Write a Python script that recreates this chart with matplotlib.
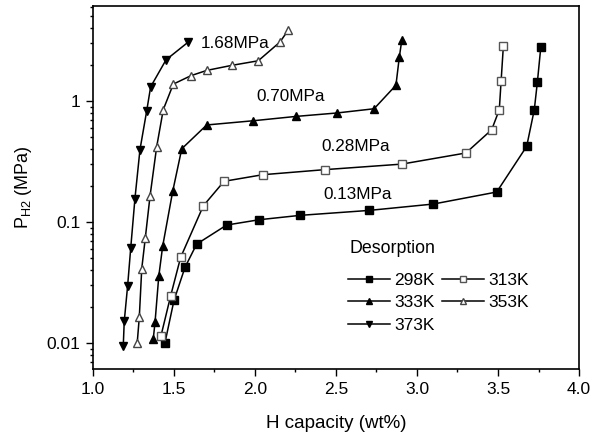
import matplotlib
matplotlib.use("Agg")
import matplotlib.pyplot as plt
from matplotlib.ticker import FixedLocator, LogLocator, FuncFormatter, MultipleLocator

plt.rcParams['font.family'] = ['Liberation Sans', 'DejaVu Sans']
plt.rcParams['mathtext.default'] = 'regular'

# Desorption isotherms: H capacity (wt%) vs hydrogen pressure (MPa)
cap_298 = [1.444, 1.50, 1.568, 1.640, 1.825, 2.027, 2.278, 2.704, 3.101, 3.492, 3.677, 3.724, 3.743, 3.764]
p_298 = [0.0100, 0.0225, 0.0422, 0.0657, 0.0944, 0.1045, 0.1135, 0.1247, 0.1408, 0.177, 0.422, 0.847, 1.43, 2.77]

cap_313 = [1.420, 1.480, 1.541, 1.681, 1.809, 2.048, 2.432, 2.906, 3.302, 3.461, 3.508, 3.519, 3.533]
p_313 = [0.0115, 0.0247, 0.0510, 0.136, 0.217, 0.246, 0.271, 0.301, 0.372, 0.579, 0.847, 1.45, 2.83]

cap_333 = [1.372, 1.383, 1.406, 1.430, 1.492, 1.548, 1.702, 1.990, 2.253, 2.504, 2.735, 2.870, 2.891, 2.906]
p_333 = [0.0108, 0.0148, 0.0355, 0.0629, 0.179, 0.403, 0.634, 0.687, 0.746, 0.796, 0.863, 1.35, 2.31, 3.17]

cap_353 = [1.273, 1.286, 1.301, 1.323, 1.352, 1.393, 1.434, 1.496, 1.605, 1.702, 1.856, 2.020, 2.154, 2.204]
p_353 = [0.0100, 0.0164, 0.0411, 0.0738, 0.163, 0.417, 0.85, 1.38, 1.62, 1.79, 1.97, 2.15, 3.07, 3.83]

cap_373 = [1.187, 1.193, 1.214, 1.233, 1.259, 1.290, 1.331, 1.356, 1.451, 1.588]
p_373 = [0.0095, 0.0151, 0.0298, 0.061, 0.156, 0.396, 0.82, 1.31, 2.19, 3.07]

plateau_labels = ['1.68MPa', '0.70MPa', '0.28MPa', '0.13MPa']
plateau_x = [1.665, 2.010, 2.410, 2.420]
plateau_y = [3.01, 1.09, 0.42, 0.17]

fig = plt.figure(figsize=(6.01, 4.37), dpi=100)
ax = fig.add_axes([0.1547, 0.1556, 0.8087, 0.8307])

lw = 1.1
ms_sq = 5.3
ms_tri = 6.3
ax.plot(cap_298, p_298, '-', color='black', lw=lw, marker='s', ms=ms_sq,
        mfc='black', mec='black', label='298K')
ax.plot(cap_313, p_313, '-', color='black', lw=lw, marker='s', ms=ms_sq,
        mfc='white', mec='#555555', mew=1.0, label='313K')
ax.plot(cap_333, p_333, '-', color='black', lw=lw, marker='^', ms=ms_tri,
        mfc='black', mec='black', label='333K')
ax.plot(cap_353, p_353, '-', color='black', lw=lw, marker='^', ms=ms_tri,
        mfc='white', mec='#444444', mew=1.0, label='353K')
ax.plot(cap_373, p_373, '-', color='black', lw=lw, marker='v', ms=ms_tri,
        mfc='black', mec='black', label='373K')

for txt, x, y in zip(plateau_labels, plateau_x, plateau_y):
    ax.text(x, y, txt, fontsize=12.3, ha='left', va='center')

ax.set_yscale('log')
ax.set_xlim(1.0, 4.0)
ax.set_ylim(0.0061, 6.1)

ax.xaxis.set_major_locator(MultipleLocator(0.5))
ax.xaxis.set_minor_locator(MultipleLocator(0.25))
ax.xaxis.set_major_formatter(FuncFormatter(lambda v, p: f'{v:.1f}'))
ax.yaxis.set_major_locator(FixedLocator([0.01, 0.1, 1]))
ax.yaxis.set_minor_locator(LogLocator(base=10, subs=range(2, 10)))
ax.yaxis.set_major_formatter(FuncFormatter(lambda v, p: f'{v:g}'))
ax.yaxis.set_minor_formatter(FuncFormatter(lambda v, p: ''))

ax.tick_params(which='major', direction='out', length=5, width=1.0, labelsize=12.5, pad=4)
ax.tick_params(which='minor', direction='out', length=2.5, width=1.0)
for s in ax.spines.values():
    s.set_linewidth(1.2)

ax.set_xlabel('H capacity (wt%)', fontsize=13.5, labelpad=13)
ax.set_ylabel(r'P$_{H2}$ (MPa)', fontsize=13, labelpad=9)

# Legend heading and two-column legend
ax.text(0.527, 0.333, 'Desorption', transform=ax.transAxes, fontsize=12.8,
        ha='left', va='center')
h = {l.get_label(): l for l in ax.get_lines()}
order = ['298K', '333K', '373K', '313K', '353K']
leg = ax.legend([h[k] for k in order], order, ncol=2, frameon=False,
                fontsize=12.5, loc='upper left', bbox_to_anchor=(0.525, 0.266),
                handlelength=2.4, handletextpad=0.25, columnspacing=0.45,
                labelspacing=0.43, markerscale=0.7,
                borderaxespad=0, borderpad=0)

fig.savefig('out.png', dpi=100)
